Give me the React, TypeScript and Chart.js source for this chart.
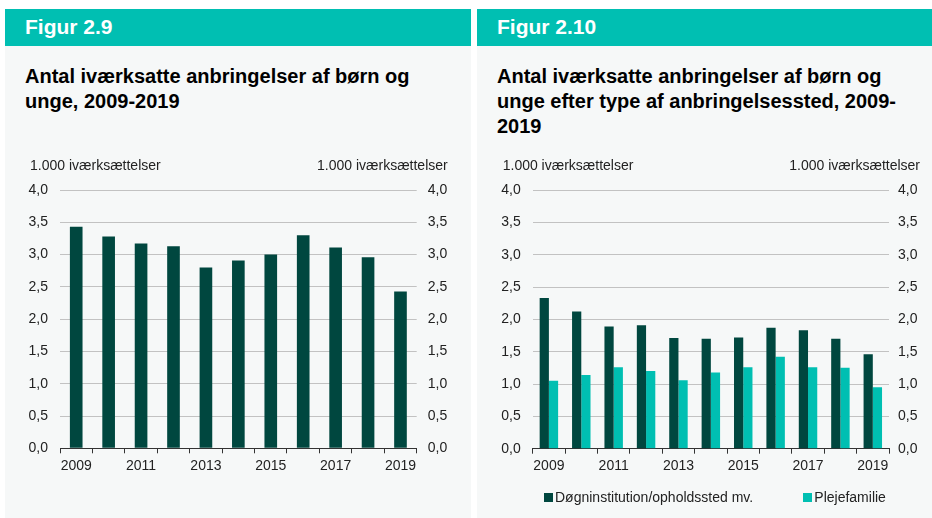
import React, { useEffect, useRef } from "react";
import { Chart, registerables } from "chart.js";

Chart.register(...registerables);

// ---------- data ----------
const years = ["2009", "2010", "2011", "2012", "2013", "2014", "2015", "2016", "2017", "2018", "2019"];
const totalPlacements = [3.43, 3.28, 3.17, 3.13, 2.8, 2.91, 3.0, 3.3, 3.11, 2.96, 2.43];
const institutionPlacements = [2.33, 2.12, 1.89, 1.91, 1.71, 1.7, 1.72, 1.87, 1.83, 1.7, 1.46];
const fosterFamilyPlacements = [1.05, 1.14, 1.26, 1.2, 1.06, 1.18, 1.26, 1.42, 1.26, 1.25, 0.95];
const seriesNames = ["Døgninstitution/opholdssted mv.", "Plejefamilie"];
const totalSeriesName = "Iværksatte anbringelser";
const unitLabel = "1.000 iværksættelser";
const yMin = 0;
const yMax = 4;
const yStep = 0.5;

const leftFigure = "Figur 2.9";
const leftTitle = ["Antal iværksatte anbringelser af børn og", "unge, 2009-2019"];
const rightFigure = "Figur 2.10";
const rightTitle = [
  "Antal iværksatte anbringelser af børn og",
  "unge efter type af anbringelsessted, 2009-",
  "2019",
];

// ---------- style ----------
const FONT = '"Liberation Sans", Arial, Helvetica, sans-serif';
const DARK = "#00473f";
const TEAL = "#00bfb2";
const PANEL_BG = "#f6f8f8";
const TEXT = "#222222";
const GRID = "#c2c2c2";
const AXIS = "#333333";

Chart.defaults.font.family = FONT;
Chart.defaults.font.size = 14;
Chart.defaults.color = TEXT;

const CANVAS_TOP = 141; // relative to panel top
const CANVAS_H = 368;

const fmt = (v: number) => v.toFixed(1).replace(".", ",");

const unitLabelPlugin = {
  id: "unitLabels",
  afterDraw(chart: any, _args: any, opts: any) {
    const { ctx, chartArea } = chart;
    ctx.save();
    ctx.font = `14px ${FONT}`;
    ctx.fillStyle = TEXT;
    ctx.textBaseline = "alphabetic";
    ctx.textAlign = "left";
    ctx.fillText(opts.text, chartArea.left - 30, chartArea.top - 20.5);
    ctx.textAlign = "right";
    ctx.fillText(opts.text, chartArea.right + 31, chartArea.top - 20.5);
    ctx.restore();
  },
};

function makeOptions(cfg: {
  leftW: number;
  rightW: number;
  rightPad: number;
  bottomPad: number;
}): any {
  return {
    responsive: false,
    animation: false,
    devicePixelRatio: 1,
    layout: { padding: { top: 40, bottom: cfg.bottomPad, left: 0, right: 0 } },
    plugins: {
      legend: { display: false },
      tooltip: { enabled: false },
      unitLabels: { text: unitLabel },
    },
    scales: {
      x: {
        type: "category",
        offset: true,
        afterFit: (s: any) => {
          s.height = 30;
        },
        grid: {
          display: true,
          offset: true,
          drawOnChartArea: false,
          drawTicks: true,
          tickLength: 5,
          color: AXIS,
          lineWidth: 1,
        },
        border: { display: true, color: AXIS, width: 1 },
        ticks: {
          autoSkip: false,
          maxRotation: 0,
          minRotation: 0,
          padding: 4,
          color: TEXT,
          font: { size: 14 },
          callback: (_v: any, i: number) => (i % 2 === 0 ? years[i] : ""),
        },
      },
      y: {
        position: "left",
        min: yMin,
        max: yMax,
        afterFit: (s: any) => {
          s.width = cfg.leftW;
        },
        grid: { color: GRID, lineWidth: 1, drawTicks: false },
        border: { display: false },
        ticks: {
          stepSize: yStep,
          padding: 12,
          color: TEXT,
          font: { size: 14 },
          callback: (v: any) => fmt(Number(v)),
        },
      },
      y2: {
        position: "right",
        min: yMin,
        max: yMax,
        afterFit: (s: any) => {
          s.width = cfg.rightW;
        },
        grid: { display: false, drawTicks: false },
        border: { display: false },
        ticks: {
          stepSize: yStep,
          padding: cfg.rightPad,
          color: TEXT,
          font: { size: 14 },
          callback: (v: any) => fmt(Number(v)),
        },
      },
    },
  };
}

function ChartCanvas({ width, config }: { width: number; config: () => any }) {
  const ref = useRef<HTMLCanvasElement | null>(null);
  useEffect(() => {
    if (!ref.current) return;
    const chart = new Chart(ref.current, config());
    return () => chart.destroy();
  }, []);
  return (
    <canvas
      ref={ref}
      width={width}
      height={CANVAS_H}
      style={{ position: "absolute", left: 0, top: CANVAS_TOP, width, height: CANVAS_H, display: "block" }}
    />
  );
}

function Panel({
  left,
  width,
  figure,
  title,
  children,
}: {
  left: number;
  width: number;
  figure: string;
  title: string[];
  children?: any;
}) {
  return (
    <div style={{ position: "absolute", left, top: 9, width, height: 509, background: PANEL_BG }}>
      <div style={{ position: "absolute", left: 0, top: 0, width, height: 37, background: TEAL }}>
        <div
          style={{
            position: "absolute",
            left: 20,
            top: 6.5,
            fontFamily: FONT,
            fontWeight: "bold",
            fontSize: 21,
            lineHeight: "21px",
            color: "#ffffff",
            whiteSpace: "nowrap",
          }}
        >
          {figure}
        </div>
      </div>
      <div
        style={{
          position: "absolute",
          left: 20,
          top: 55,
          fontFamily: FONT,
          fontWeight: "bold",
          fontSize: 20,
          lineHeight: "25px",
          color: "#000000",
          whiteSpace: "nowrap",
        }}
      >
        {title.map((t, i) => (
          <div key={i}>{t}</div>
        ))}
      </div>
      {children}
    </div>
  );
}

function LegendItem({ left, color, label }: { left: number; color: string; label: string }) {
  return (
    <>
      <div style={{ position: "absolute", left, top: 483.7, width: 9, height: 9, background: color }} />
      <div
        style={{
          position: "absolute",
          left: left + 11,
          top: 480.9,
          fontFamily: FONT,
          fontSize: 14,
          lineHeight: "14px",
          color: TEXT,
          whiteSpace: "nowrap",
        }}
      >
        {label}
      </div>
    </>
  );
}

export default function App() {
  const leftConfig = () => ({
    type: "bar",
    data: {
      labels: years,
      datasets: [
        {
          label: totalSeriesName,
          data: totalPlacements,
          backgroundColor: DARK,
          borderWidth: 0,
          barPercentage: 0.39,
          categoryPercentage: 1,
          yAxisID: "y",
        },
      ],
    },
    options: makeOptions({ leftW: 55, rightW: 54.3, rightPad: 11, bottomPad: 39.7 }),
    plugins: [unitLabelPlugin],
  });

  const rightConfig = () => ({
    type: "bar",
    data: {
      labels: years,
      datasets: [
        {
          label: seriesNames[0],
          data: institutionPlacements,
          backgroundColor: DARK,
          borderWidth: 0,
          barPercentage: 1,
          categoryPercentage: 0.57,
          yAxisID: "y",
        },
        {
          label: seriesNames[1],
          data: fosterFamilyPlacements,
          backgroundColor: TEAL,
          borderWidth: 0,
          barPercentage: 1,
          categoryPercentage: 0.57,
          yAxisID: "y",
        },
      ],
    },
    options: makeOptions({ leftW: 55.7, rightW: 43, rightPad: 9, bottomPad: 39.3 }),
    plugins: [unitLabelPlugin],
  });

  return (
    <div
      style={{
        position: "absolute",
        left: 0,
        top: 0,
        width: 932,
        height: 518,
        background: "#ffffff",
        overflow: "hidden",
      }}
    >
      <Panel left={5} width={466} figure={leftFigure} title={leftTitle}>
        <ChartCanvas width={466} config={leftConfig} />
      </Panel>
      <Panel left={477} width={455} figure={rightFigure} title={rightTitle}>
        <ChartCanvas width={455} config={rightConfig} />
        <LegendItem left={67} color={DARK} label={seriesNames[0]} />
        <LegendItem left={326.3} color={TEAL} label={seriesNames[1]} />
      </Panel>
    </div>
  );
}
